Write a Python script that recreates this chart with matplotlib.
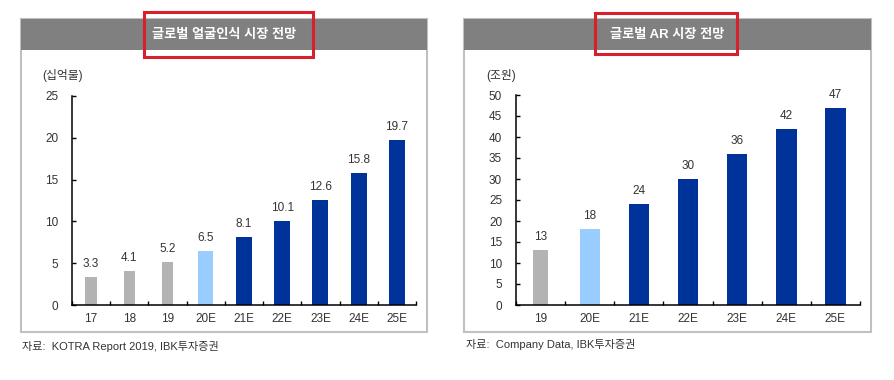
import matplotlib.pyplot as plt
from matplotlib.patches import Rectangle

plt.rcParams['font.family'] = ['Liberation Sans', 'Noto Sans CJK KR']

# 글로벌 얼굴인식 시장 전망 (십억불)
face_labels = ['17', '18', '19', '20E', '21E', '22E', '23E', '24E', '25E']
face_values = [3.3, 4.1, 5.2, 6.5, 8.1, 10.1, 12.6, 15.8, 19.7]

# 글로벌 AR 시장 전망 (조원)
ar_labels = ['19', '20E', '21E', '22E', '23E', '24E', '25E']
ar_values = [13, 18, 24, 30, 36, 42, 47]

GRAY = '#b3b3b3'
LIGHT = '#99ccff'
DARK = '#003399'
TXT = '#333333'


def bar_styles(labels):
    # 실적 = 회색, 첫 추정치 = 연파랑, 이후 = 진파랑
    colors, widths = [], []
    first_e = True
    for lab in labels:
        if not lab.endswith('E'):
            colors.append(GRAY)
            widths.append(0.30)
        elif first_e:
            colors.append(LIGHT)
            widths.append(0.40)
            first_e = False
        else:
            colors.append(DARK)
            widths.append(0.42)
    return colors, widths


def draw_panel(fig, box, title, red, unit, unit_xy, source, source_xy):
    W, H = 895, 380
    x0, x1, y0, y1 = box
    # 패널 테두리
    fig.patches.append(Rectangle((x0 / W, 1 - 332 / H), (x1 - x0) / W, (332 - y0) / H,
                                 transform=fig.transFigure, facecolor='none',
                                 edgecolor='#c0c0c0', lw=1.5, zorder=0))
    # 회색 헤더
    fig.patches.append(Rectangle((x0 / W, 1 - 50 / H), (x1 - x0) / W, 31 / H,
                                 transform=fig.transFigure, facecolor='#808080',
                                 edgecolor='none', zorder=1))
    fig.text((x0 + x1) / 2 / W, 1 - 35 / H, title, color='white', fontsize=9.5,
             fontweight='bold', ha='center', va='center', zorder=3)
    rx0, rx1, ry0, ry1 = red
    fig.patches.append(Rectangle((rx0 / W, 1 - ry1 / H), (rx1 - rx0) / W, (ry1 - ry0) / H,
                                 transform=fig.transFigure, facecolor='none',
                                 edgecolor='#d9202a', lw=2.2, zorder=4))
    fig.text(unit_xy[0] / W, 1 - unit_xy[1] / H, unit, color=TXT, fontsize=8.5,
             ha='left', va='center')
    fig.text(source_xy[0] / W, 1 - source_xy[1] / H, source, color=TXT, fontsize=8,
             ha='left', va='center')


def draw_bars(ax, labels, values, ymax, ystep):
    colors, widths = bar_styles(labels)
    x = list(range(len(labels)))
    ax.bar(x, values, width=widths, color=colors, zorder=2)
    for xi, v in zip(x, values):
        txt = f'{v:g}' if isinstance(v, int) else f'{v:.1f}'
        ax.annotate(txt, (xi, v), xytext=(0, 5), textcoords='offset points',
                    ha='center', va='bottom', fontsize=8.5, color=TXT)
    ax.set_xlim(-0.5, len(labels) - 0.5)
    ax.set_ylim(0, ymax)
    ax.set_yticks(range(0, ymax + 1, ystep))
    ax.set_xticks([i - 0.5 for i in range(len(labels) + 1)])
    ax.set_xticklabels([])
    ax.set_xticks(x, minor=True)
    ax.set_xticklabels(labels, minor=True)
    ax.tick_params(axis='x', which='major', direction='in', length=3, width=1)
    ax.tick_params(axis='x', which='minor', length=0, pad=6, labelsize=8.5, labelcolor=TXT)
    ax.tick_params(axis='y', direction='in', length=3, width=1, pad=10,
                   labelsize=8.5, labelcolor=TXT)
    for s in ['top', 'right']:
        ax.spines[s].set_visible(False)
    for s in ['left', 'bottom']:
        ax.spines[s].set_linewidth(1.1)
    ax.set_facecolor('none')
    ax.set_zorder(5)


fig = plt.figure(figsize=(8.95, 3.8), dpi=100)

draw_panel(fig, (21, 427, 19, 332), '글로벌 얼굴인식 시장 전망', (144, 313, 12, 57),
           '(십억불)', (42, 75), '자료:  KOTRA Report 2019, IBK투자증권', (22, 346))
draw_panel(fig, (464, 871, 19, 332), '글로벌 AR 시장 전망', (595, 737, 13, 54),
           '(조원)', (486, 75), '자료:  Company Data, IBK투자증권', (466, 345))

ax1 = fig.add_axes([72 / 895, 75 / 380, (416 - 72) / 895, (305 - 96) / 380])
draw_bars(ax1, face_labels, face_values, 25, 5)

ax2 = fig.add_axes([516 / 895, 75 / 380, (860 - 516) / 895, (305 - 95) / 380])
draw_bars(ax2, ar_labels, ar_values, 50, 5)

fig.savefig('out.png', dpi=100)
